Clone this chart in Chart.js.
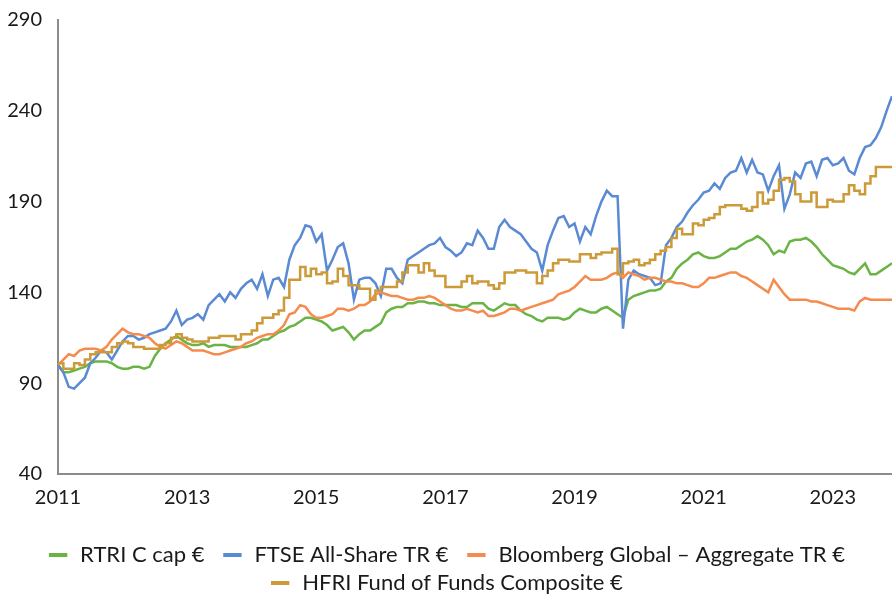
<!DOCTYPE html>
<html>
<head>
<meta charset="utf-8">
<script src="https://cdn.jsdelivr.net/npm/chart.js@4.4.1/dist/chart.umd.min.js"></script>
<style>
  html, body { margin: 0; padding: 0; background: #fff; }
  #wrap { width: 892px; height: 599px; }
</style>
</head>
<body>
<div id="wrap"><canvas id="chart"></canvas></div>
<script>
// monthly points, month 0 = mid 2011, rebased to 100
var xTickMonths = [0, 24, 48, 72, 96, 120, 144];
var xTickLabels = ['2011', '2013', '2015', '2017', '2019', '2021', '2023'];
var seriesNames = ['RTRI C cap €', 'FTSE All-Share TR €', 'Bloomberg Global – Aggregate TR €', 'HFRI Fund of Funds Composite €'];

var rtri = [100,96,96,97,98,99,101,102,102,102,101,99,98,98,99,99,98,99,105,109,112,114,116,114,112,111,
  111,112,110,111,111,111,110,110,110,110,111,112,114,114,116,118,119,121,122,124,126,126,125,124,122,119,120,
  121,118,114,117,119,119,121,123,129,131,132,132,134,134,135,135,134,134,133,133,133,133,132,132,134,
  134,134,131,130,132,134,133,133,130,128,127,125,124,126,126,126,125,126,129,131,130,129,129,131,132,130,128,
  126,136,138,139,140,141,141,142,146,148,153,156,158,161,162,160,159,159,160,162,164,164,166,
  168,169,171,169,166,161,163,162,168,169,169,170,168,165,161,158,155,154,153,151,150,153,156,150,150,152,154,156];

var ftse = [100,96,88,87,90,93,101,104,108,107,103,108,113,116,116,114,115,117,118,119,120,124,130,122,125,126,
  128,125,133,136,139,135,140,137,142,145,147,142,150,138,147,148,143,158,166,170,177,176,168,172,
  152,158,165,167,156,136,147,148,148,145,138,153,153,148,145,158,160,162,164,166,167,170,165,163,160,162,167,166,
  174,170,164,164,176,180,176,174,172,168,164,162,152,166,174,181,182,176,178,168,176,172,182,190,196,193,193,
  120,147,152,150,149,148,144,145,166,170,176,179,184,188,191,195,196,200,197,203,206,207,214,
  206,213,206,205,196,204,210,186,194,206,203,211,212,204,213,214,210,211,214,207,205,214,220,221,225,231,240,248];

var bbgAgg = [100,103,106,105,108,109,109,109,108,110,114,117,120,118,117,117,116,115,112,110,109,111,113,112,110,108,
  108,108,107,106,106,107,108,109,110,112,113,115,116,117,117,119,122,128,129,133,132,128,126,126,127,128,131,
  131,130,131,133,133,135,139,140,139,138,138,137,136,136,137,137,138,137,135,133,131,130,130,131,130,
  129,130,127,127,128,129,131,131,130,131,132,133,134,135,136,139,140,141,143,146,149,147,147,147,148,150,151,
  148,151,150,149,147,148,148,147,146,146,145,145,144,143,143,145,148,148,149,150,151,151,149,
  148,146,144,142,140,147,143,139,136,136,136,136,135,135,134,133,132,131,131,131,130,135,137,136,136,136,136,136];

var hfri = [100,101,98,98,101,100,103,106,107,107,107,110,112,113,112,110,110,109,109,109,111,112,115,117,115,114,
  113,113,113,115,115,116,116,116,114,117,117,119,123,126,126,128,130,137,147,147,154,149,153,150,
  151,145,146,153,149,144,144,142,142,136,141,143,143,143,146,151,155,155,151,156,152,149,149,143,143,143,146,149,
  145,146,146,144,142,145,151,151,152,152,151,151,145,149,152,156,158,158,157,157,161,161,159,161,162,162,164,
  150,156,157,158,155,156,158,161,163,165,170,175,172,172,178,177,180,181,183,187,188,188,188,
  186,185,187,195,189,191,196,202,203,201,194,190,190,195,187,187,191,190,190,194,199,196,194,200,204,209,209,209];

var colors = ['#6AB445', '#5A8AD4', '#F58B4C', '#CC9A38'];

function toPoints(arr) {
  var pts = [];
  for (var i = 0; i < arr.length; i++) {
    pts.push({ x: i, y: arr[i] });
  }
  return pts;
}

var allSeries = [rtri, ftse, bbgAgg, hfri];
var datasets = [];
for (var i = 0; i < allSeries.length; i++) {
  datasets.push({
    label: seriesNames[i],
    data: toPoints(allSeries[i]),
    borderColor: colors[i],
    backgroundColor: colors[i],
    borderWidth: 2.5,
    pointRadius: 0,
    pointStyle: 'line',
    tension: 0,
    stepped: i == 3 ? 'after' : false,
    order: 3 - i
  });
}

var fontFamily = "Lato, 'Open Sans', sans-serif";

var ctx = document.getElementById('chart').getContext('2d');
var chart = new Chart(ctx, {
  type: 'line',
  data: { datasets: datasets },
  options: {
    responsive: true,
    maintainAspectRatio: false,
    animation: false,
    layout: { padding: { top: 0, right: 0, bottom: -5, left: 0 } },
    plugins: {
      tooltip: { enabled: false },
      legend: {
        position: 'bottom',
        labels: {
          color: '#1a1a1a',
          font: { family: fontFamily, size: 22 },
          usePointStyle: true,
          boxWidth: 22,
          boxHeight: 13,
          padding: 6,
          generateLabels: function (c) {
            var items = Chart.defaults.plugins.legend.labels.generateLabels(c);
            items.sort(function (a, b) { return a.datasetIndex - b.datasetIndex; });
            return items.map(function (it, k) {
              it.pointStyle = 'line';
              it.lineWidth = 4;
              // a little extra room before the next item on the first row
              if (k < 2) it.text = it.text + '\u2002';
              return it;
            });
          }
        }
      }
    },
    scales: {
      x: {
        type: 'linear',
        min: 0,
        max: 155,
        grid: { display: false, drawTicks: false },
        border: { display: true, color: '#8c8c8c', width: 2 },
        afterBuildTicks: function (scale) {
          scale.ticks = xTickMonths.map(function (v) { return { value: v }; });
        },
        afterFit: function (scale) { scale.height = 64; },
        ticks: {
          autoSkip: false,
          maxRotation: 0,
          padding: 12,
          color: '#1a1a1a',
          font: { family: fontFamily, size: 20 },
          callback: function (value) {
            var k = xTickMonths.indexOf(value);
            return k >= 0 ? xTickLabels[k] : '';
          }
        }
      },
      y: {
        min: 40,
        max: 290,
        grid: { display: false, drawTicks: false },
        border: { display: true, color: '#8c8c8c', width: 2 },
        afterFit: function (scale) {
          scale.width = 58;
          scale.paddingTop = 20;
        },
        ticks: {
          stepSize: 50,
          padding: 16,
          color: '#1a1a1a',
          font: { family: fontFamily, size: 20 }
        }
      }
    }
  }
});
</script>
</body>
</html>
